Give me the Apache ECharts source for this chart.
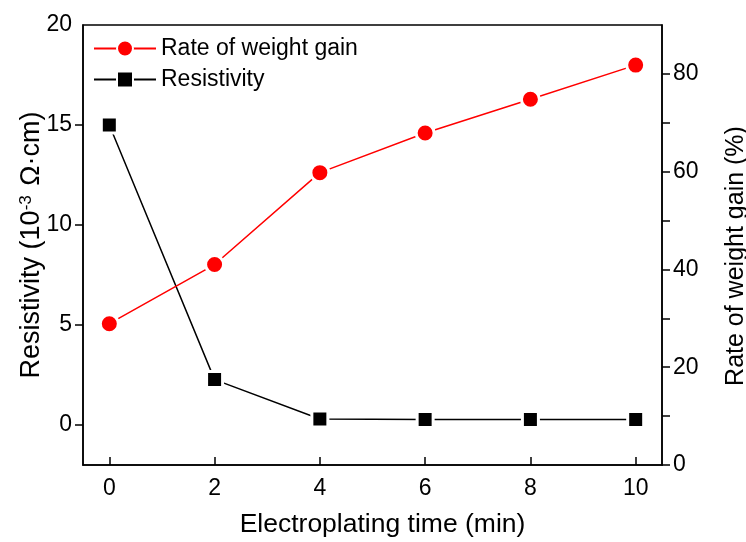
<!DOCTYPE html>
<html>
<head>
<meta charset="utf-8">
<script src="https://cdn.jsdelivr.net/npm/echarts@6/dist/echarts.min.js"></script>
<style>
  html, body { margin: 0; padding: 0; background: #fff; }
  #chart { width: 746px; height: 542px; }
</style>
</head>
<body>
<div id="chart"></div>
<script>
// electroplating time (min)
const times = [0, 2, 4, 6, 8, 10];
// resistivity, 10^-3 ohm.cm (left axis)
const resistivity = [15, 2.27, 0.3, 0.27, 0.27, 0.27];
// rate of weight gain, % (right axis)
const weightGain = [28.9, 41.0, 59.8, 67.9, 74.8, 81.8];

const xTicks = [0, 2, 4, 6, 8, 10];
const leftLabels = [0, 5, 10, 15, 20];
const leftTicks = [0, 5, 10, 15];
const rightLabels = [0, 20, 40, 60, 80];
const rightTicks = [0, 10, 20, 30, 40, 50, 60, 70, 80];

const font = '"Liberation Sans", Arial, Helvetica, sans-serif';

const chart = echarts.init(document.getElementById('chart'));

const option = {
    backgroundColor: '#fff',
    animation: false,
    textStyle: { fontFamily: font, color: '#000' },
    grid: {
        left: 83, right: 84, top: 25, bottom: 77,
        outerBoundsMode: 'none',
        containLabel: false,
        show: true, borderColor: '#000', borderWidth: 1.5
    },
    legend: {
        orient: 'vertical',
        left: 88,
        top: 32,
        itemWidth: 62,
        itemHeight: 20,
        itemGap: 8,
        textStyle: { fontSize: 23, fontFamily: font, color: '#000' },
        data: ['Rate of weight gain', 'Resistivity']
    },
    xAxis: {
        type: 'value',
        min: -0.5,
        max: 10.5,
        name: 'Electroplating time (min)',
        nameLocation: 'middle',
        nameGap: 46,
        nameTextStyle: { fontSize: 26.5, fontFamily: font, color: '#000', padding: [0, 0, 0, 20] },
        axisLine: { show: true, onZero: false, lineStyle: { color: '#000', width: 1.5 } },
        axisTick: { show: true, inside: true, length: 8, customValues: xTicks, lineStyle: { color: '#000', width: 1.5 } },
        axisLabel: { customValues: xTicks, fontSize: 23, fontFamily: font, color: '#000', margin: 12 },
        splitLine: { show: false }
    },
    yAxis: [
        {
            type: 'value',
            min: -2,
            max: 20,
            position: 'left',
            name: 'Resistivity (10{sup|-3} Ω·cm)',
            nameLocation: 'middle',
            nameGap: 37,
            nameMoveOverlap: false,
            nameRotate: 90,
            nameTextStyle: {
                fontSize: 27, fontFamily: font, color: '#000',
                rich: {
                    sup: { fontSize: 17, fontFamily: font, color: '#000', verticalAlign: 'top', padding: [0, 2, 11, 0] }
                }
            },
            axisLine: { show: true, onZero: false, lineStyle: { color: '#000', width: 1.5 } },
            axisTick: { show: true, inside: false, length: 8, customValues: leftTicks, lineStyle: { color: '#000', width: 1.5 } },
            axisLabel: { customValues: leftLabels, fontSize: 23, fontFamily: font, color: '#000', margin: 11 },
            splitLine: { show: false }
        },
        {
            type: 'value',
            min: 0,
            max: 90,
            position: 'right',
            name: 'Rate of weight gain (%)',
            nameLocation: 'middle',
            nameGap: 62,
            nameRotate: 90,
            nameTextStyle: { fontSize: 25, fontFamily: font, color: '#000', padding: [0, 22, 0, 0] },
            axisLine: { show: true, onZero: false, lineStyle: { color: '#000', width: 1.5 } },
            axisTick: { show: true, inside: false, length: 8, customValues: rightTicks, lineStyle: { color: '#000', width: 1.5 } },
            axisLabel: { customValues: rightLabels, fontSize: 23, fontFamily: font, color: '#000', margin: 11 },
            splitLine: { show: false }
        }
    ],
    series: [
        {
            name: 'Rate of weight gain',
            type: 'line',
            yAxisIndex: 1,
            data: times.map((t, i) => [t, weightGain[i]]),
            symbol: 'circle',
            symbolSize: 18,
            lineStyle: { color: '#ff0000', width: 1.5 },
            itemStyle: { color: '#ff0000', borderColor: '#fff', borderWidth: 3 },
            z: 3
        },
        {
            name: 'Resistivity',
            type: 'line',
            yAxisIndex: 0,
            data: times.map((t, i) => [t, resistivity[i]]),
            symbol: 'rect',
            symbolSize: 16,
            lineStyle: { color: '#000', width: 1.5 },
            itemStyle: { color: '#000', borderColor: '#fff', borderWidth: 3 },
            z: 2
        }
    ]
};

chart.setOption(option);
</script>
</body>
</html>
